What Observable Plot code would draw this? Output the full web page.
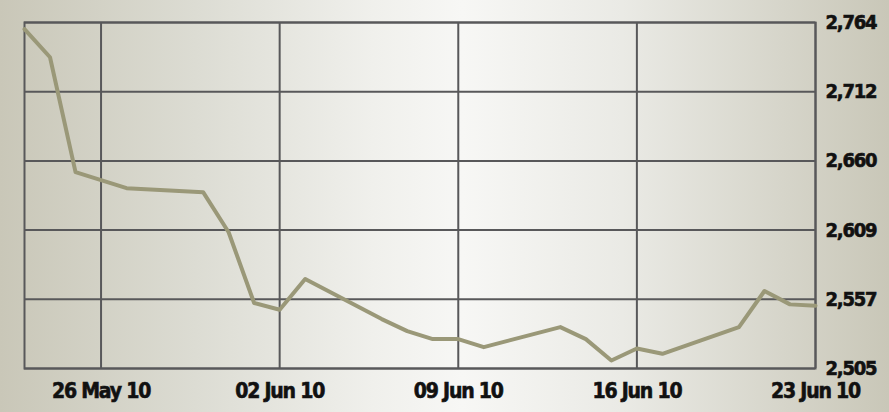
<!DOCTYPE html>
<html><head><meta charset="utf-8">
<script src="https://cdn.jsdelivr.net/npm/d3@7"></script>
<script src="https://cdn.jsdelivr.net/npm/@observablehq/plot@0.6"></script>
<style>
html,body{margin:0;padding:0;width:889px;height:412px;overflow:hidden;}
body{background:linear-gradient(to right,#c9c7b8 0%,#dcdcd3 22%,#f0f0ec 42%,#f7f7f5 52%,#eaeae5 70%,#d6d5ca 88%,#c9c7b8 100%);}
#chart svg{display:block;}
#chart svg text{letter-spacing:-1.2px;stroke:#111;stroke-width:0.6px;}
</style></head><body><div id="chart"></div>
<script>
const dates = ["2010-05-23","2010-05-24","2010-05-25","2010-05-26","2010-05-27",
  "2010-05-30","2010-05-31","2010-06-01","2010-06-02","2010-06-03",
  "2010-06-06","2010-06-07","2010-06-08","2010-06-09","2010-06-10",
  "2010-06-13","2010-06-14","2010-06-15","2010-06-16","2010-06-17",
  "2010-06-20","2010-06-21","2010-06-22","2010-06-23"];
const values = [2759,2738,2652,2646,2640,
  2637,2607,2554,2549,2572,
  2542,2533,2527,2527,2521,
  2536,2527,2511,2520,2516,
  2536,2563,2553,2552];
const yTicks = [2505, 2556.8, 2608.6, 2660.4, 2712.2, 2764];
const xTickDates = ["2010-05-26","2010-06-02","2010-06-09","2010-06-16","2010-06-23"];

const data = dates.map((d, i) => ({date: new Date(d + "T00:00:00Z"), value: values[i]}));
const xTicks = xTickDates.map(d => new Date(d + "T00:00:00Z"));
const font = "'DejaVu Sans Condensed','DejaVu Sans',sans-serif";

const chart = Plot.plot({
  width: 889,
  height: 412,
  marginLeft: 24,
  marginRight: 74,
  marginTop: 22,
  marginBottom: 44,
  style: {background: "transparent", fontFamily: font},
  x: {type: "utc", label: null, domain: [new Date("2010-05-23T00:00:00Z"), new Date("2010-06-23T00:00:00Z")]},
  y: {label: null, domain: [2505, 2764]},
  marks: [
    Plot.gridY(yTicks, {stroke: "#58585a", strokeOpacity: 1, strokeWidth: 2}),
    Plot.gridX(xTicks, {stroke: "#58585a", strokeOpacity: 1, strokeWidth: 2}),
    Plot.frame({stroke: "#58585a", strokeWidth: 2}),
    Plot.line(data, {x: "date", y: "value", stroke: "#9a9878", strokeWidth: 4}),
    Plot.axisY(yTicks, {anchor: "right", label: null, tickSize: 0, tickPadding: 10, tickFormat: d3.format(",.0f"),
      fontSize: 20, fontWeight: "bold", fill: "#111", fontFamily: font}),
    Plot.axisX(xTicks, {label: null, tickSize: 0, tickPadding: 15, tickFormat: d3.utcFormat("%d %b %y"),
      fontSize: 21, fontWeight: "bold", fill: "#111", fontFamily: font})
  ]
});
document.getElementById("chart").appendChild(chart);
</script>
</body></html>
